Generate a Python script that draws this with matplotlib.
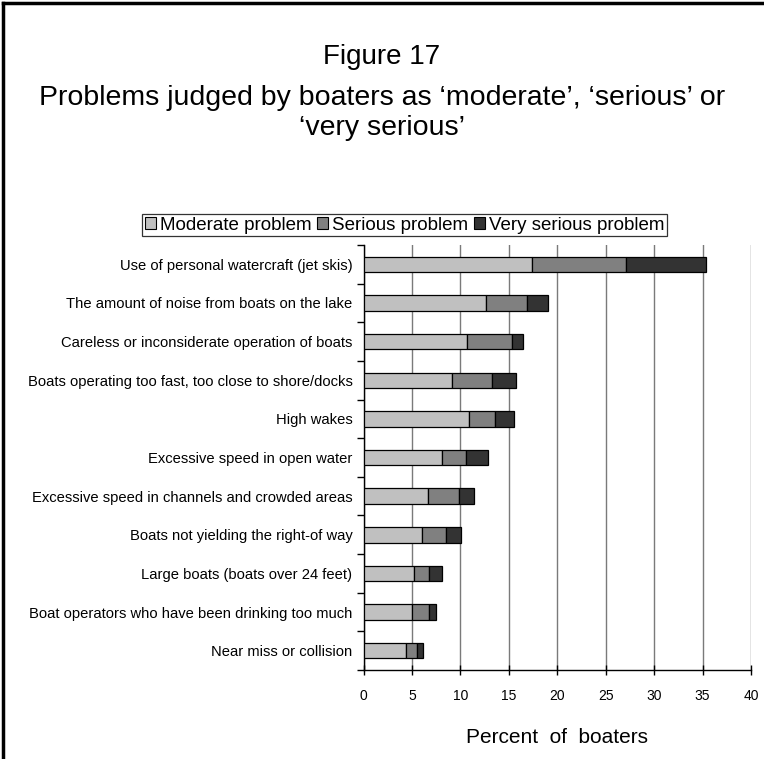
import matplotlib
matplotlib.use("Agg")
import matplotlib.pyplot as plt
import numpy as np
from matplotlib.lines import Line2D
from matplotlib.patches import Patch

plt.rcParams['font.family'] = ['Liberation Sans', 'DejaVu Sans']

categories = [
    "Use of personal watercraft (jet skis)",
    "The amount of noise from boats on the lake",
    "Careless or inconsiderate operation of boats",
    "Boats operating too fast, too close to shore/docks",
    "High wakes",
    "Excessive speed in open water",
    "Excessive speed in channels and crowded areas",
    "Boats not yielding the right-of way",
    "Large boats (boats over 24 feet)",
    "Boat operators who have been drinking too much",
    "Near miss or collision",
]
moderate = [17.4, 12.6, 10.7, 9.1, 10.9, 8.1, 6.7, 6.0, 5.2, 5.0, 4.4]
serious = [9.7, 4.3, 4.6, 4.2, 2.7, 2.5, 3.2, 2.5, 1.6, 1.8, 1.1]
very_serious = [8.3, 2.1, 1.2, 2.4, 1.9, 2.2, 1.5, 1.6, 1.3, 0.7, 0.6]
series_names = ["Moderate problem", "Serious problem", "Very serious problem"]
colors = ["#c0c0c0", "#808080", "#333333"]

fig = plt.figure(figsize=(7.64, 7.59), dpi=100)
ax = fig.add_axes([363.5 / 764, 1 - 670 / 759, (751 - 363.5) / 764, (670 - 245) / 759])

y = np.arange(len(categories))
left = np.zeros(len(categories))
for vals, col in zip([moderate, serious, very_serious], colors):
    ax.barh(y, vals, left=left, height=0.4, color=col, edgecolor="black", linewidth=0.9, zorder=3)
    left += np.array(vals)

ax.set_xlim(0, 40)
ax.set_ylim(len(categories) - 0.5, -0.5)
ax.set_xticks(np.arange(0, 41, 5))
ax.set_yticks(y)
ax.set_yticklabels(categories, fontsize=10.6)
ax.set_yticks(np.arange(-0.5, len(categories), 1), minor=True)
ax.tick_params(axis="y", which="major", length=0, pad=8)
ax.tick_params(axis="y", which="minor", length=5, direction="out", width=1)
ax.tick_params(axis="x", length=7, direction="inout", width=1, labelsize=10, pad=10)
ax.xaxis.grid(True, color="#7a7a7a", linewidth=1, zorder=0)
ax.spines["top"].set_visible(False)
ax.spines["right"].set_visible(False)
ax.spines["left"].set_linewidth(1)
ax.spines["bottom"].set_linewidth(1)
ax.set_xlabel("Percent  of  boaters", fontsize=15, labelpad=18)

fig.text(0.5, 1 - 57 / 759, "Figure 17", ha="center", va="center", fontsize=20)
fig.text(0.5, 1 - 113 / 759,
         "Problems judged by boaters as \u2018moderate\u2019, \u2018serious\u2019 or\n\u2018very serious\u2019",
         ha="center", va="center", fontsize=20.5, linespacing=1.17)

handles = [Patch(facecolor=c, edgecolor="black", linewidth=0.8) for c in colors]
leg = fig.legend(handles, series_names, loc="center", bbox_to_anchor=(404.5 / 764, 1 - 225 / 759),
                 ncol=3, fontsize=13.5, frameon=True, fancybox=False, handlelength=0.6, handleheight=0.6,
                 handletextpad=0.2, columnspacing=0.3, borderpad=0.15, borderaxespad=0)
leg.get_frame().set_edgecolor("black")
leg.get_frame().set_linewidth(0.9)

# outer frame: left and top edges only
fig.add_artist(Line2D([3 / 764, 3 / 764], [0, 1 - 3 / 759], color="black", linewidth=2.5, transform=fig.transFigure))
fig.add_artist(Line2D([3 / 764, 1], [1 - 3 / 759, 1 - 3 / 759], color="black", linewidth=2.5, transform=fig.transFigure))

fig.savefig("out.png", dpi=100)
